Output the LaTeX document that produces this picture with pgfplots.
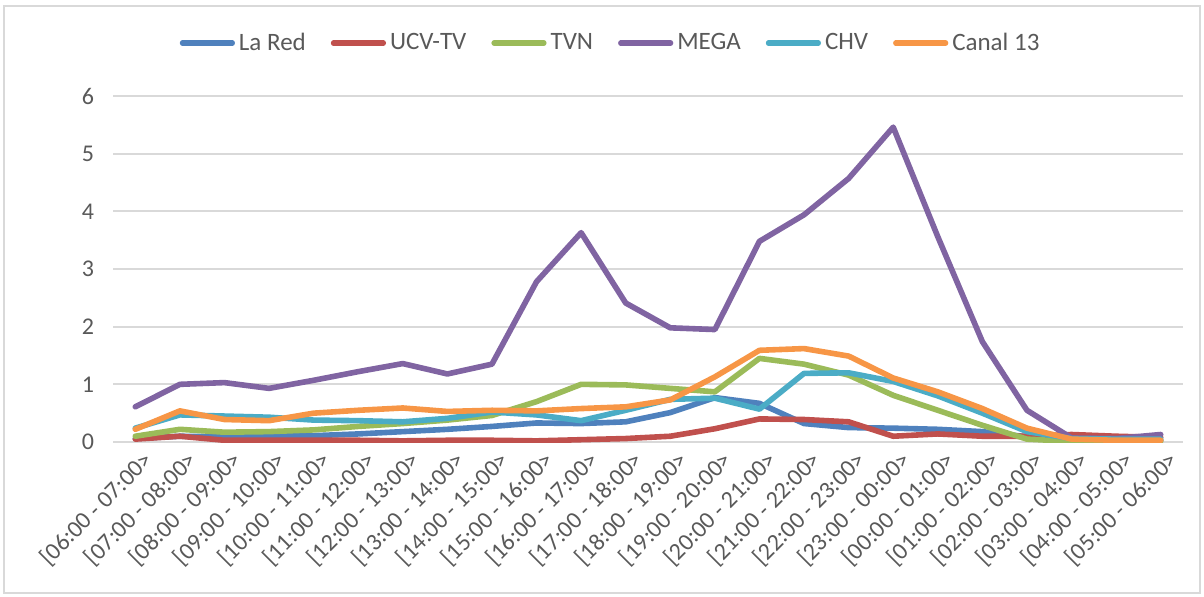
\documentclass[border=0pt]{standalone}
\usepackage{fontspec}
\setmainfont{Carlito}
\usepackage{pgfplots}
\usepackage{pgfplotstable}
\pgfplotsset{compat=1.18}
\definecolor{cLaRed}{HTML}{4F81BD}
\definecolor{cUCV}{HTML}{C0504D}
\definecolor{cTVN}{HTML}{9BBB59}
\definecolor{cMEGA}{HTML}{8064A2}
\definecolor{cCHV}{HTML}{4BACC6}
\definecolor{cC13}{HTML}{F79646}
\definecolor{txt}{HTML}{595959}
\definecolor{gridc}{HTML}{D9D9D9}
\pgfplotstableread{
x lared ucv tvn mega chv c13
0 0.06 0.05 0.10 0.61 0.24 0.22
1 0.10 0.10 0.22 1.00 0.47 0.54
2 0.09 0.03 0.17 1.03 0.45 0.39
3 0.10 0.03 0.18 0.93 0.43 0.37
4 0.11 0.03 0.21 1.07 0.38 0.50
5 0.14 0.03 0.27 1.22 0.37 0.55
6 0.18 0.02 0.32 1.36 0.35 0.59
7 0.22 0.03 0.38 1.18 0.41 0.53
8 0.27 0.03 0.46 1.35 0.52 0.55
9 0.33 0.02 0.70 2.78 0.47 0.54
10 0.32 0.04 1.00 3.63 0.37 0.58
11 0.35 0.06 0.99 2.41 0.55 0.61
12 0.51 0.10 0.93 1.98 0.74 0.73
13 0.77 0.23 0.87 1.95 0.76 1.13
14 0.67 0.40 1.45 3.48 0.57 1.59
15 0.32 0.39 1.35 3.94 1.19 1.62
16 0.25 0.35 1.16 4.57 1.20 1.49
17 0.24 0.10 0.81 5.46 1.05 1.11
18 0.22 0.14 0.55 3.56 0.80 0.87
19 0.18 0.10 0.29 1.74 0.50 0.58
20 0.09 0.10 0.05 0.55 0.18 0.24
21 0.05 0.13 0.01 0.07 0.06 0.05
22 0.03 0.10 0.01 0.06 0.05 0.03
23 0.03 0.08 0.01 0.13 0.05 0.03
}\datatable
\begin{document}
\begin{tikzpicture}
\path[use as bounding box] (0pt,0pt) rectangle (602pt,298pt);
\draw[gridc, line width=1.2pt] (2pt,1.5pt) rectangle (600pt,295pt);
\begin{axis}[
  at={(56.5pt,77pt)}, anchor=south west,
  scale only axis, width=535pt, height=173pt,
  xmin=-0.5, xmax=23.5, ymin=0, ymax=6,
  xtick={0,...,23}, ytick={0,...,6},
  xticklabels={{[06:00 - 07:00>},{[07:00 - 08:00>},{[08:00 - 09:00>},{[09:00 - 10:00>},{[10:00 - 11:00>},{[11:00 - 12:00>},{[12:00 - 13:00>},{[13:00 - 14:00>},{[14:00 - 15:00>},{[15:00 - 16:00>},{[16:00 - 17:00>},{[17:00 - 18:00>},{[18:00 - 19:00>},{[19:00 - 20:00>},{[20:00 - 21:00>},{[21:00 - 22:00>},{[22:00 - 23:00>},{[23:00 - 00:00>},{[00:00 - 01:00>},{[01:00 - 02:00>},{[02:00 - 03:00>},{[03:00 - 04:00>},{[04:00 - 05:00>},{[05:00 - 06:00>}},
  axis line style={draw=none},
  major tick length=0pt,
  ymajorgrids, grid style={gridc, line width=0.9pt},
  /pgf/number format/assume math mode=true,
  tick label style={font=\fontsize{12}{14}\selectfont, text=txt},
  yticklabel style={xshift=-6pt},
  xticklabel style={rotate=45, anchor=east, yshift=-10pt, xshift=3pt},
  legend style={at={(0.466,1.153)}, anchor=center, draw=none, fill=none,
    legend columns=6, font=\fontsize{12.5}{14}\selectfont, text=txt,
    /tikz/every even column/.append style={column sep=10.5pt},
    /tikz/every odd column/.append style={column sep=0pt}},
  legend image code/.code={\draw[#1, line width=2.6pt, line cap=round] (0pt,0pt) -- (25pt,0pt);},
  every axis plot/.append style={line width=2.8pt, line join=round, line cap=round, mark=none},
]
\addplot[cLaRed] table[x=x,y=lared] {\datatable};
\addplot[cUCV] table[x=x,y=ucv] {\datatable};
\addplot[cTVN] table[x=x,y=tvn] {\datatable};
\addplot[cMEGA] table[x=x,y=mega] {\datatable};
\addplot[cCHV] table[x=x,y=chv] {\datatable};
\addplot[cC13] table[x=x,y=c13] {\datatable};
\legend{La Red,UCV-TV,TVN,MEGA,CHV,Canal 13}
\end{axis}
\end{tikzpicture}
\end{document}
